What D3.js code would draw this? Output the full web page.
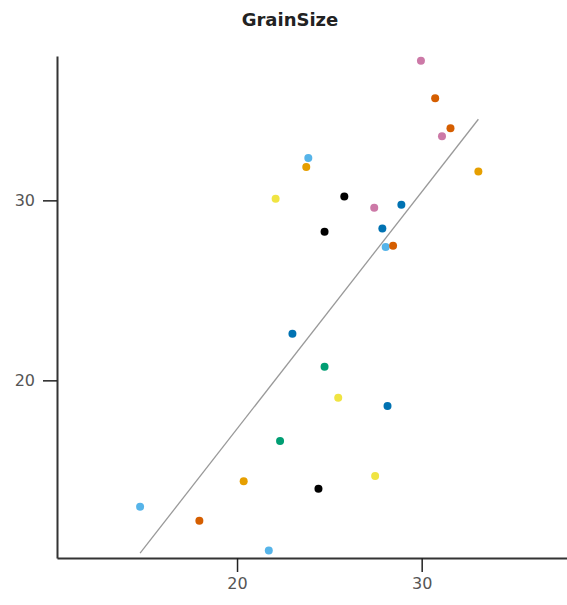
<!DOCTYPE html>
<html>
<head>
<meta charset="utf-8">
<script src="https://cdn.jsdelivr.net/npm/d3@7"></script>
<style>
  body { margin: 0; background: #fff; }
  text { font-family: "DejaVu Sans", sans-serif; }
</style>
</head>
<body>
<div id="chart"></div>
<script>
// values
const xValues = [29.96, 30.73, 31.56, 31.10, 23.86, 23.75, 33.07, 22.09, 25.81, 27.43, 28.90, 24.74, 27.87,
                 28.05, 28.45, 23.00, 24.74, 25.48, 28.15, 22.33, 27.48, 24.41, 21.72, 20.36, 14.75, 17.96];
const yValues = [37.76, 35.67, 34.00, 33.56, 32.35, 31.85, 31.61, 30.09, 30.22, 29.59, 29.76, 28.26, 28.43,
                 27.41, 27.48, 22.59, 20.76, 19.04, 18.57, 16.63, 14.68, 13.98, 10.54, 14.39, 12.98, 12.20];
const groups = ["purple", "vermillion", "vermillion", "purple", "sky", "orange", "orange", "yellow", "black",
                "purple", "blue", "black", "blue", "sky", "vermillion", "blue", "green", "yellow", "blue",
                "green", "yellow", "black", "sky", "orange", "sky", "vermillion"];
const groupNames = ["black", "orange", "sky", "green", "yellow", "blue", "vermillion", "purple"];
const groupColors = ["#000000", "#E69F00", "#56B4E9", "#009E73", "#F0E442", "#0072B2", "#D55E00", "#CC79A7"];
const xTicks = [20, 30];
const yTicks = [20, 30];
const title = "GrainSize";

const width = 567, height = 605;
const margin = { top: 56, right: 0, bottom: 47, left: 57 };
const innerW = width - margin.left - margin.right;
const innerH = height - margin.top - margin.bottom;

const svg = d3.select("#chart")
  .append("svg")
    .attr("width", width)
    .attr("height", height);

const g = svg.append("g")
  .attr("transform", `translate(${margin.left}, ${margin.top})`);

// scales
const x = d3.scaleLinear().domain([10.25, 37.87]).range([0, innerW]);
const y = d3.scaleLinear().domain([10.13, 38.02]).range([innerH, 0]);
const color = d3.scaleOrdinal().domain(groupNames).range(groupColors);

// title
svg.append("text")
  .attr("x", 290)
  .attr("y", 26)
  .attr("text-anchor", "middle")
  .attr("font-size", 18)
  .attr("font-weight", "bold")
  .attr("fill", "#222")
  .text(title);

// axes
const xAxis = g.append("g")
  .attr("transform", `translate(0, ${innerH})`)
  .call(d3.axisBottom(x).tickValues(xTicks).tickSize(14).tickPadding(6).tickSizeOuter(0));

const yAxis = g.append("g")
  .call(d3.axisLeft(y).tickValues(yTicks).tickSize(14).tickPadding(8).tickSizeOuter(0));

[xAxis, yAxis].forEach(ax => {
  ax.select(".domain").attr("stroke", "#333").attr("stroke-width", 2);
  ax.selectAll(".tick line").attr("stroke", "#222").attr("stroke-width", 1.5);
  ax.selectAll(".tick text")
    .attr("font-size", 16)
    .attr("font-family", "DejaVu Sans, sans-serif")
    .attr("fill", "#555");
});

// least squares fit
const points = xValues.map((v, i) => ({ x: v, y: yValues[i], group: groups[i] }));
const mx = d3.mean(points, d => d.x);
const my = d3.mean(points, d => d.y);
const slope = d3.sum(points, d => (d.x - mx) * (d.y - my)) / d3.sum(points, d => (d.x - mx) ** 2);
const intercept = my - slope * mx;
const [xMin, xMax] = d3.extent(points, d => d.x);

g.append("line")
  .attr("x1", x(xMin))
  .attr("y1", y(intercept + slope * xMin))
  .attr("x2", x(xMax))
  .attr("y2", y(intercept + slope * xMax))
  .attr("stroke", "#999")
  .attr("stroke-width", 1.3);

// points
g.selectAll("circle")
  .data(points)
  .enter()
  .append("circle")
    .attr("cx", d => x(d.x))
    .attr("cy", d => y(d.y))
    .attr("r", 4)
    .attr("fill", d => color(d.group));
</script>
</body>
</html>
